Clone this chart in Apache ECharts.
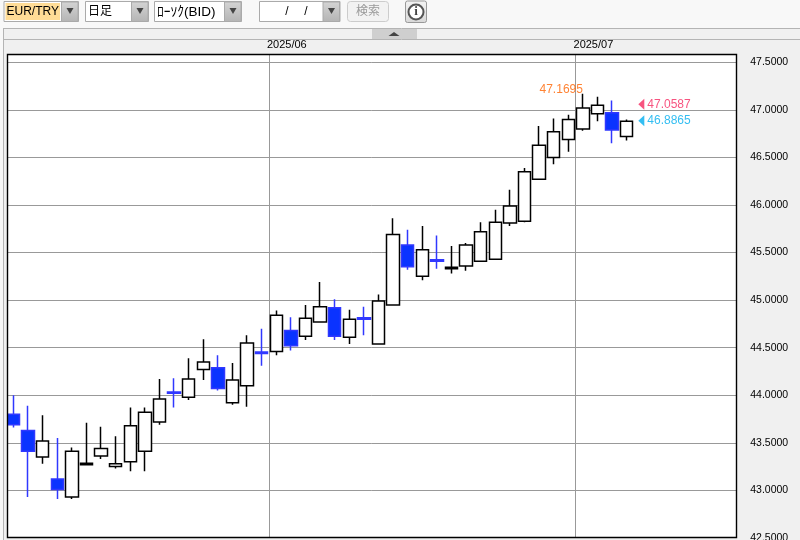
<!DOCTYPE html>
<html>
<head>
<meta charset="utf-8">
<title>EUR/TRY</title>
<script src="https://cdn.jsdelivr.net/npm/echarts@6/dist/echarts.min.js"></script>
<style>
  html, body { margin: 0; padding: 0; background: #f8f8f8; }
  #chart { width: 800px; height: 540px; }
</style>
</head>
<body>
<div id="chart"></div>
<script>
// 2025/05/07 - 2025/07/04 の日足、残りは右側の余白
const dates = [
  '2025/05/07', '2025/05/08', '2025/05/09', '2025/05/12', '2025/05/13', '2025/05/14', '2025/05/15', '2025/05/16',
  '2025/05/19', '2025/05/20', '2025/05/21', '2025/05/22', '2025/05/23', '2025/05/26', '2025/05/27', '2025/05/28',
  '2025/05/29', '2025/05/30', '2025/06/02', '2025/06/03', '2025/06/04', '2025/06/05', '2025/06/06', '2025/06/09',
  '2025/06/10', '2025/06/11', '2025/06/12', '2025/06/13', '2025/06/16', '2025/06/17', '2025/06/18', '2025/06/19',
  '2025/06/20', '2025/06/23', '2025/06/24', '2025/06/25', '2025/06/26', '2025/06/27', '2025/06/30', '2025/07/01',
  '2025/07/02', '2025/07/03', '2025/07/04', '2025/07/07', '2025/07/08', '2025/07/09', '2025/07/10', '2025/07/11',
  '2025/07/14', '2025/07/15'
];
const opens = [43.80, 43.63, 43.35, 43.12, 42.93, 43.27, 43.36, 43.25, 43.30, 43.41, 43.72, 44.035, 43.98, 44.27, 44.29, 43.92, 44.10, 44.455, 44.46, 44.68, 44.62, 44.77, 44.92, 44.61, 44.815, 44.54, 44.95, 45.58, 45.25, 45.425, 45.33, 45.36, 45.41, 45.43, 45.81, 45.83, 46.27, 46.50, 46.69, 46.80, 46.96, 46.97, 46.72];
const closes = [43.69, 43.41, 43.52, 43.01, 43.41, 43.285, 43.44, 43.28, 43.68, 43.82, 43.96, 44.02, 44.17, 44.35, 44.07, 44.16, 44.55, 44.44, 44.84, 44.52, 44.81, 44.93, 44.62, 44.80, 44.80, 44.99, 45.69, 45.35, 45.53, 45.41, 45.345, 45.58, 45.72, 45.82, 45.99, 46.35, 46.63, 46.77, 46.90, 47.02, 47.05, 46.79, 46.88];
const lows = [43.66, 42.93, 43.28, 42.91, 42.91, 43.27, 43.33, 43.23, 43.20, 43.20, 43.69, 43.87, 43.95, 44.16, 44.05, 43.90, 43.88, 44.31, 44.42, 44.47, 44.58, 44.77, 44.58, 44.54, 44.63, 44.54, 44.95, 45.32, 45.21, 45.33, 45.28, 45.31, 45.41, 45.43, 45.78, 45.82, 46.27, 46.43, 46.56, 46.78, 46.88, 46.65, 46.68];
const highs = [44.00, 43.89, 43.79, 43.55, 43.45, 43.71, 43.67, 43.57, 43.87, 43.87, 44.17, 44.18, 44.39, 44.59, 44.42, 44.34, 44.63, 44.70, 44.89, 44.82, 44.95, 45.19, 45.01, 44.90, 44.93, 45.06, 45.86, 45.74, 45.78, 45.68, 45.57, 45.60, 45.82, 45.95, 46.16, 46.39, 46.83, 46.91, 46.95, 47.1695, 47.14, 47.10, 46.90];
const blackDoji = [5, 30];
const monthStarts = [18, 39];
const highLabel = 47.1695;
const lastAsk = 47.0587;
const lastBid = 46.8865;

const FONT = '"Liberation Sans", "Noto Sans CJK JP", sans-serif';
const BLUE = '#0a33ff';
const BLUE_LINE = '#3038ff';

const candleData = dates.slice(0, opens.length).map((d, i) => {
  const item = {value: [opens[i], closes[i], lows[i], highs[i]]};
  if (blackDoji.includes(i)) {
    item.itemStyle = {color: '#000', borderColor: '#000'};
  }
  return item;
});

// 上部ツールバーの部品
const grayGrad = {
  type: 'linear', x: 0, y: 0, x2: 0, y2: 1,
  colorStops: [{offset: 0, color: '#d4d4d4'}, {offset: 1, color: '#b4b4b4'}]
};
const rect = (x, y, width, height, style, extra) => ({type: 'rect', z: 100, shape: {x, y, width, height, ...(extra || {})}, style});
const text = (x, y, str, color, size, align) => ({
  type: 'text', z: 101, x, y,
  style: {text: str, fill: color || '#000', font: `${size || 12}px ${FONT}`, align: align || 'left', verticalAlign: 'middle'}
});
const tri = (cx, cy, w, h, up) => ({
  type: 'polygon', z: 101,
  shape: {points: up ? [[cx - w / 2, cy + h / 2], [cx + w / 2, cy + h / 2], [cx, cy - h / 2]] : [[cx - w / 2, cy - h / 2], [cx + w / 2, cy - h / 2], [cx, cy + h / 2]]},
  style: {fill: '#444'}
});
const selectBox = (x, w, label, hl, size) => {
  const items = [
    rect(x + 0.5, 1.5, w, 20, {fill: '#fff', stroke: '#aaa', lineWidth: 1}),
    rect(x + w - 16.5, 2, 16.5, 19.5, {fill: grayGrad, stroke: '#aaa', lineWidth: 1}),
    tri(x + w - 8, 11, 7, 6, false)
  ];
  if (hl) items.push(rect(x + 2, 3, w - 20, 17, {fill: hl}));
  if (label) items.push(text(x + 3, 12, label, '#000', size || 12));
  return items;
};

const toolbar = [
  rect(0, 0, 800, 28, {fill: '#f8f8f8'}),
  rect(0, 28, 3, 512, {fill: '#f8f8f8'}),
  ...selectBox(3.5, 74.5, 'EUR/TRY', '#ffdc96', 12),
  ...selectBox(85, 63, '日足', null, 12),
  ...selectBox(154, 87, 'ﾛｰｿｸ(BID)', null, 13.5),
  ...selectBox(259, 80.5),
  text(287, 12, '/', '#000', 12, 'center'),
  text(306, 12, '/', '#000', 12, 'center'),
  rect(347.5, 1.5, 41, 20, {fill: '#f2f2f2', stroke: '#ccc', lineWidth: 1}, {r: 3}),
  text(368, 12, '検索', '#999', 12, 'center'),
  rect(405.5, 1, 21, 21.5, {fill: {type: 'linear', x: 0, y: 0, x2: 0, y2: 1, colorStops: [{offset: 0, color: '#f4f4f4'}, {offset: 1, color: '#d8d8d8'}]}, stroke: '#999', lineWidth: 1}, {r: 2}),
  {type: 'circle', z: 101, shape: {cx: 416, cy: 12, r: 7.5}, style: {fill: '#fff', stroke: '#555', lineWidth: 2}},
  {type: 'text', z: 102, x: 416, y: 12, style: {text: 'i', fill: '#444', font: `bold 13px "Liberation Serif", serif`, align: 'center', verticalAlign: 'middle'}},
  // 折りたたみ帯
  {type: 'line', z: 100, shape: {x1: 3, y1: 28.5, x2: 800, y2: 28.5}, style: {stroke: '#b4b4b4', lineWidth: 1}},
  {type: 'line', z: 100, shape: {x1: 3, y1: 39.5, x2: 800, y2: 39.5}, style: {stroke: '#b4b4b4', lineWidth: 1}},
  {type: 'line', z: 100, shape: {x1: 3.5, y1: 28, x2: 3.5, y2: 540}, style: {stroke: '#b4b4b4', lineWidth: 1}},
  rect(372, 29, 45, 10, {fill: '#cfcfcf'}),
  tri(394, 34, 11, 4, true),
  // グリッド線の端を隠してからチャート枠を描く
  rect(4, 54, 3, 486, {fill: '#f0f0f0'}),
  rect(4, 538, 733, 2, {fill: '#f0f0f0'}),
  rect(7.5, 54.5, 729, 483, {fill: 'none', stroke: '#000', lineWidth: 1.4})
];

const chart = echarts.init(document.getElementById('chart'));
chart.setOption({
  animation: false,
  backgroundColor: '#f0f0f0',
  textStyle: {fontFamily: FONT},
  grid: {left: 6.2, width: 730, top: 54.5, height: 483.4, outerBoundsMode: 'none', show: true, backgroundColor: '#fff', borderWidth: 0},
  xAxis: {
    type: 'category',
    position: 'top',
    data: dates,
    boundaryGap: true,
    axisLine: {show: false},
    axisTick: {show: false},
    axisLabel: {
      interval: i => monthStarts.includes(i),
      formatter: v => v.slice(0, 7),
      color: '#000',
      fontSize: 11,
      margin: 4,
      padding: [0, 0, 0, 21]
    },
    splitLine: {
      show: true,
      interval: i => monthStarts.includes(i),
      lineStyle: {color: '#999', width: 1}
    }
  },
  yAxis: {
    type: 'value',
    position: 'right',
    min: 42.5,
    max: 47.583,
    interval: 0.5,
    axisLine: {show: false},
    axisTick: {show: false},
    axisLabel: {
      showMaxLabel: false,
      formatter: v => v.toFixed(4),
      color: '#000',
      fontSize: 10.5,
      margin: 14
    },
    splitLine: {show: true, lineStyle: {color: '#999', width: 1}}
  },
  series: [
    {
      type: 'candlestick',
      data: candleData,
      barWidth: 13,
      itemStyle: {color: '#fff', color0: BLUE, borderColor: '#000', borderColor0: BLUE_LINE, borderWidth: 1.5}
    },
    {
      type: 'scatter',
      data: [[39, highLabel]],
      symbolSize: 0,
      label: {show: true, position: 'left', distance: 0, offset: [0, -4], formatter: highLabel.toFixed(4), color: '#ff6400', fontSize: 12}
    },
    {
      type: 'scatter',
      data: [[43, lastAsk]],
      symbol: 'triangle',
      symbolSize: [11, 6],
      symbolRotate: 90,
      itemStyle: {color: '#f5285f'},
      label: {show: true, position: 'right', distance: 3, formatter: lastAsk.toFixed(4), color: '#f5285f', fontSize: 12}
    },
    {
      type: 'scatter',
      data: [[43, lastBid]],
      symbol: 'triangle',
      symbolSize: [11, 6],
      symbolRotate: 90,
      itemStyle: {color: '#00aeef'},
      label: {show: true, position: 'right', distance: 3, formatter: lastBid.toFixed(4), color: '#00aeef', fontSize: 12}
    }
  ],
  graphic: toolbar
});
</script>
</body>
</html>
